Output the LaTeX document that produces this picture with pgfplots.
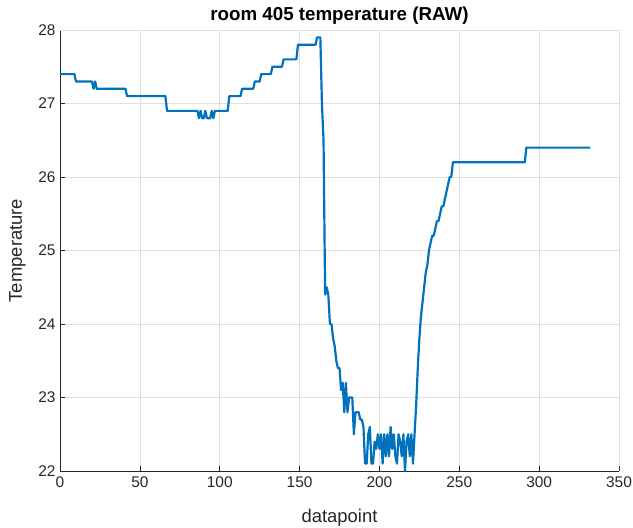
\documentclass[border=0pt]{standalone}
\usepackage{pgfplots}
\pgfplotsset{compat=1.18}
\usepackage{fontspec}
\setmainfont{Liberation Sans}
\definecolor{mlblue}{RGB}{0,114,189}
\definecolor{axgray}{RGB}{38,38,38}
\definecolor{gridgray}{RGB}{223,223,223}
\begin{document}
\begin{tikzpicture}
\useasboundingbox (-60bp,-57bp) rectangle (573bp,471bp);
\begin{axis}[
    at={(0,0)}, anchor=south west,
    scale only axis,
    width=559bp, height=441bp,
    xmin=0, xmax=350, ymin=22, ymax=28,
    xtick={0,50,...,350}, ytick={22,23,...,28},
    axis x line*=bottom, axis y line*=left,
    axis line style={axgray, line width=0.6pt, -},
    tick style={axgray, line width=0.6pt},
    tick align=inside, major tick length=5bp,
    grid=major, grid style={gridgray, line width=0.6pt},
    ticklabel style={font=\fontsize{15.5}{18}\selectfont, text=axgray},
    xticklabel style={yshift=-2bp},
    yticklabel style={xshift=-1bp},
    /pgf/number format/assume math mode=true,
    xlabel={datapoint}, ylabel={Temperature},
    label style={font=\fontsize{18.5}{22}\selectfont, text=axgray},
    xlabel style={at={(axis description cs:0.5,-0.105)}, anchor=center},
    ylabel style={at={(axis description cs:-0.076,0.5)}, anchor=center},
    title={room 405 temperature (RAW)},
    title style={font=\bfseries\fontsize{18.8}{22}\selectfont, at={(axis description cs:0.5,1.02)}, anchor=center},
]
% box edges top/right in grid colour
\draw[gridgray, line width=0.6pt] (rel axis cs:0,1) -- (rel axis cs:1,1) -- (rel axis cs:1,0);
\addplot[mlblue, line width=2.2pt, line join=round] coordinates {
(0,27.4)(9,27.4)(10,27.3)(20,27.3)(21,27.2)(22,27.3)(23,27.2)(41,27.2)(42,27.1)(66,27.1)
(67,26.9)(86,26.9)(87,26.8)(88,26.9)(89,26.8)(90,26.8)(91,26.9)(92,26.8)(94,26.8)(95,26.9)
(96,26.8)(97,26.9)(105,26.9)(106,27.1)(113,27.1)(114,27.2)(121,27.2)(122,27.3)(125,27.3)
(126,27.4)(132,27.4)(133,27.5)(139,27.5)(140,27.6)(148,27.6)(149,27.8)(160,27.8)(161,27.9)
(163,27.9)(164,27.0)(165,26.5)(166,24.4)(167,24.5)(168,24.4)(169,24.0)(170,24.0)(171,23.8)
(172,23.7)(173,23.5)(174,23.4)(175,23.4)(176,23.1)(177,23.2)(178,22.8)(179,23.2)(180,22.8)
(181,23.0)(183,23.0)(184,22.5)(185,22.8)(187,22.8)(188,22.7)(189,22.7)(190,22.6)
(191,22.1)(192,22.1)(193,22.5)(194,22.6)(195,22.1)(196,22.1)(197,22.4)(198,22.3)(199,22.5)
(200,22.3)(201,22.5)(202,22.1)(203,22.5)(204,22.2)(205,22.5)(206,22.2)(207,22.6)(208,22.3)
(209,22.5)(210,22.2)(211,22.1)(212,22.5)(213,22.4)(214,22.2)(215,22.5)(216,22.0)(217,22.4)
(218,22.5)(219,22.2)(220,22.5)(221,22.1)(222,22.5)(223,22.9)(224,23.4)(225,23.8)(226,24.1)
(227,24.3)(228,24.5)(229,24.7)(230,24.8)(231,25.0)(232,25.1)(233,25.2)(234,25.2)(235,25.3)
(236,25.4)(237,25.4)(238,25.5)(239,25.6)(240,25.6)(241,25.7)(242,25.8)(243,25.9)(244,26.0)
(245,26.0)(246,26.2)(291,26.2)(292,26.4)(332,26.4)
};
\end{axis}
\end{tikzpicture}
\end{document}
